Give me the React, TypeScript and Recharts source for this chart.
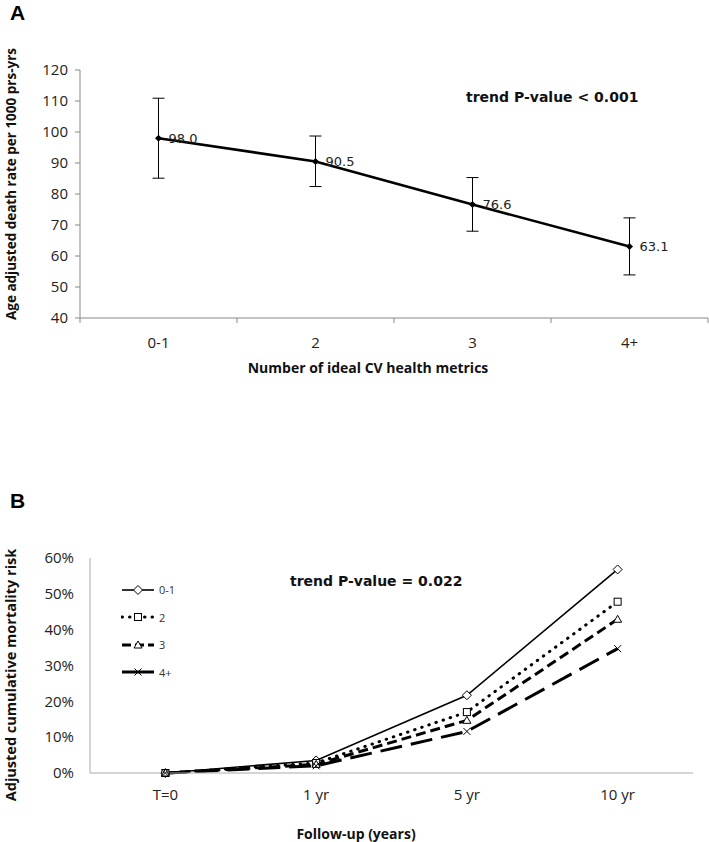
import React from 'react';
import { LineChart, Line, XAxis, YAxis, ErrorBar, LabelList, Legend } from 'recharts';

// ---- Panel A data ----
const categoriesA = ['0-1', '2', '3', '4+'];
const rateA = [98.0, 90.5, 76.6, 63.1];
const lowerA = [85.1, 82.4, 68.0, 53.9];
const upperA = [110.9, 98.7, 85.3, 72.3];
const yTicksA = [40, 50, 60, 70, 80, 90, 100, 110, 120];

// ---- Panel B data ----
const timepointsB = ['T=0', '1 yr', '5 yr', '10 yr'];
const risk01 = [0, 3.5, 21.7, 56.8];
const risk2 = [0, 2.8, 17.0, 47.8];
const risk3 = [0, 2.4, 14.7, 42.9];
const risk4 = [0, 2.0, 11.6, 34.7];
const seriesNamesB = ['0-1', '2', '3', '4+'];
const yTicksB = [0, 10, 20, 30, 40, 50, 60];

const dataA = categoriesA.map((c, i) => ({
  x: i + 0.5,
  cat: c,
  rate: rateA[i],
  err: [rateA[i] - lowerA[i], upperA[i] - rateA[i]],
}));

const dataB = timepointsB.map((t, i) => ({
  x: i + 0.5,
  t,
  s0: risk01[i],
  s1: risk2[i],
  s2: risk3[i],
  s3: risk4[i],
}));

const xTicks = [0, 0.5, 1, 1.5, 2, 2.5, 3, 3.5, 4];

const SANS = '"Open Sans", Lato, sans-serif';
const DEJA = '"DejaVu Sans", sans-serif';

const seriesStyleB = [
  { key: 's0', width: 1.6, dash: undefined as string | undefined, legendDash: undefined as string | undefined, cap: 'butt', marker: 'diamond' },
  { key: 's1', width: 3, dash: '0.5 7', legendDash: '0.5 7', cap: 'round', marker: 'square' },
  { key: 's2', width: 3, dash: '10 5', legendDash: '9 4', cap: 'butt', marker: 'triangle' },
  { key: 's3', width: 3, dash: '22 9', legendDash: undefined, cap: 'butt', marker: 'cross' },
];

function marker(shape: string, cx: number, cy: number, key?: string | number) {
  if (shape === 'diamond') {
    return <path key={key} d={`M${cx},${cy - 4.5}L${cx + 4.5},${cy}L${cx},${cy + 4.5}L${cx - 4.5},${cy}Z`} fill="#fff" stroke="#000" strokeWidth={1} />;
  }
  if (shape === 'square') {
    return <rect key={key} x={cx - 3.5} y={cy - 3.5} width={7} height={7} fill="#fff" stroke="#000" strokeWidth={1} />;
  }
  if (shape === 'triangle') {
    return <path key={key} d={`M${cx},${cy - 4}L${cx + 4},${cy + 3}L${cx - 4},${cy + 3}Z`} fill="#fff" stroke="#000" strokeWidth={1} />;
  }
  return (
    <g key={key}>
      <line x1={cx - 3.5} y1={cy - 3.5} x2={cx + 3.5} y2={cy + 3.5} stroke="#000" strokeWidth={1} />
      <line x1={cx - 3.5} y1={cy + 3.5} x2={cx + 3.5} y2={cy - 3.5} stroke="#000" strokeWidth={1} />
    </g>
  );
}

const TickA = (props: any) => {
  const { x, y, payload } = props;
  const v = payload.value;
  if (Number.isInteger(v)) {
    return <line x1={x} x2={x} y1={y} y2={y + 5} stroke="#888" strokeWidth={1} />;
  }
  return (
    <text x={x} y={y + 30} textAnchor="middle" fontSize={15} fontFamily={SANS} fill="#222">
      {categoriesA[Math.floor(v)]}
    </text>
  );
};

const TickB = (props: any) => {
  const { x, y, payload } = props;
  const v = payload.value;
  if (Number.isInteger(v)) return <g />;
  return (
    <text x={x} y={y + 27} textAnchor="middle" fontSize={15} fontFamily={SANS} fill="#222">
      {timepointsB[Math.floor(v)]}
    </text>
  );
};

const LegendB = () => (
  <div style={{ fontFamily: SANS, fontSize: 11, color: '#333' }}>
    {seriesStyleB.map((s, i) => (
      <div key={s.key} style={{ height: 27.5, display: 'flex', alignItems: 'center' }}>
        <svg width={36} height={12} style={{ display: 'block' }}>
          <line x1={1} y1={6} x2={33} y2={6} stroke="#000" strokeWidth={s.width} strokeDasharray={s.legendDash} strokeLinecap={s.cap as any} />
          {marker(s.marker, 17, 6)}
        </svg>
        <span style={{ marginLeft: 2 }}>{seriesNamesB[i]}</span>
      </div>
    ))}
  </div>
);

const abs = (style: React.CSSProperties): React.CSSProperties => ({ position: 'absolute', whiteSpace: 'nowrap', ...style });

export default function App() {
  return (
    <div style={{ position: 'absolute', left: 0, top: 0, width: 709, height: 842, background: '#fff', overflow: 'hidden' }}>
      {/* Panel A */}
      <div style={abs({ left: 0, top: 0 })}>
        <LineChart width={709} height={400} data={dataA} margin={{ top: 70, right: 1, bottom: 52, left: 30 }}>
          <XAxis
            dataKey="x"
            type="number"
            domain={[0, 4]}
            ticks={xTicks}
            interval={0}
            tick={<TickA />}
            tickLine={false}
            tickSize={0}
            tickMargin={0}
            height={30}
            stroke="#888"
            allowDecimals
          />
          <YAxis
            domain={[40, 120]}
            ticks={yTicksA}
            interval={0}
            width={50}
            stroke="#888"
            tickSize={5}
            tickMargin={7}
            tick={{ fontSize: 15, fontFamily: SANS, fill: '#222' }}
          />
          <Line
            dataKey="rate"
            stroke="#000"
            strokeWidth={2.6}
            isAnimationActive={false}
            dot={(p: any) => (
              <path key={p.index} d={`M${p.cx},${p.cy - 3.5}L${p.cx + 3.5},${p.cy}L${p.cx},${p.cy + 3.5}L${p.cx - 3.5},${p.cy}Z`} fill="#000" />
            )}
            activeDot={false}
          >
            <ErrorBar dataKey="err" width={6} stroke="#000" strokeWidth={1} direction="y" isAnimationActive={false} />
            <LabelList
              dataKey="rate"
              position="right"
              offset={10}
              formatter={(v: any) => Number(v).toFixed(1)}
              style={{ fontSize: 13, fontFamily: DEJA, fill: '#222' }}
            />
          </Line>
        </LineChart>
      </div>
      <div style={abs({ left: 10, top: 1, fontFamily: '"Liberation Sans", Arial, sans-serif', fontWeight: 'bold', fontSize: 21 })}>A</div>
      <div style={abs({ left: 466, top: 89, fontFamily: DEJA, fontWeight: 'bold', fontSize: 14, color: '#111' })}>trend P-value &lt; 0.001</div>
      <div style={abs({ left: 11, top: 184, transform: 'translate(-50%,-50%) rotate(-90deg)', fontFamily: SANS, fontWeight: 'bold', fontSize: 13.5, color: '#111' })}>
        Age adjusted death rate per 1000 prs-yrs
      </div>
      <div style={abs({ left: 368, top: 367, transform: 'translate(-50%,-50%)', fontFamily: SANS, fontWeight: 'bold', fontSize: 14, color: '#111' })}>
        Number of ideal CV health metrics
      </div>

      {/* Panel B */}
      <div style={abs({ left: 0, top: 400 })}>
        <LineChart width={709} height={442} data={dataB} margin={{ top: 158, right: 16, bottom: 39, left: 40 }}>
          <XAxis
            dataKey="x"
            type="number"
            domain={[0, 4]}
            ticks={xTicks}
            interval={0}
            tick={<TickB />}
            tickLine={false}
            tickSize={0}
            tickMargin={0}
            height={30}
            stroke="#aaa"
            allowDecimals
          />
          <YAxis
            domain={[0, 60]}
            ticks={yTicksB}
            interval={0}
            width={50}
            stroke="#aaa"
            tickLine={false}
            tickSize={0}
            tickMargin={16}
            tickFormatter={(v: number) => `${v}%`}
            tick={{ fontSize: 15, fontFamily: SANS, fill: '#222' }}
          />
          <Legend
            layout="vertical"
            align="center"
            verticalAlign="middle"
            content={<LegendB />}
            wrapperStyle={{ left: 121, top: 176, width: 80 }}
          />
          {seriesStyleB.map((s, i) => (
            <Line
              key={s.key}
              dataKey={s.key}
              name={seriesNamesB[i]}
              stroke="#000"
              strokeWidth={s.width}
              strokeDasharray={s.dash}
              strokeLinecap={s.cap as any}
              isAnimationActive={false}
              dot={(p: any) => marker(s.marker, p.cx, p.cy, p.index)}
              activeDot={false}
            />
          ))}
        </LineChart>
      </div>
      <div style={abs({ left: 10, top: 489, fontFamily: '"Liberation Sans", Arial, sans-serif', fontWeight: 'bold', fontSize: 21 })}>B</div>
      <div style={abs({ left: 290, top: 573, fontFamily: DEJA, fontWeight: 'bold', fontSize: 14, color: '#111' })}>trend P-value = 0.022</div>
      <div style={abs({ left: 10, top: 675, transform: 'translate(-50%,-50%) rotate(-90deg)', fontFamily: SANS, fontWeight: 'bold', fontSize: 14.5, color: '#111' })}>
        Adjusted cumulative mortality risk
      </div>
      <div style={abs({ left: 356, top: 833, transform: 'translate(-50%,-50%)', fontFamily: SANS, fontWeight: 'bold', fontSize: 14, color: '#111' })}>
        Follow-up (years)
      </div>
    </div>
  );
}
